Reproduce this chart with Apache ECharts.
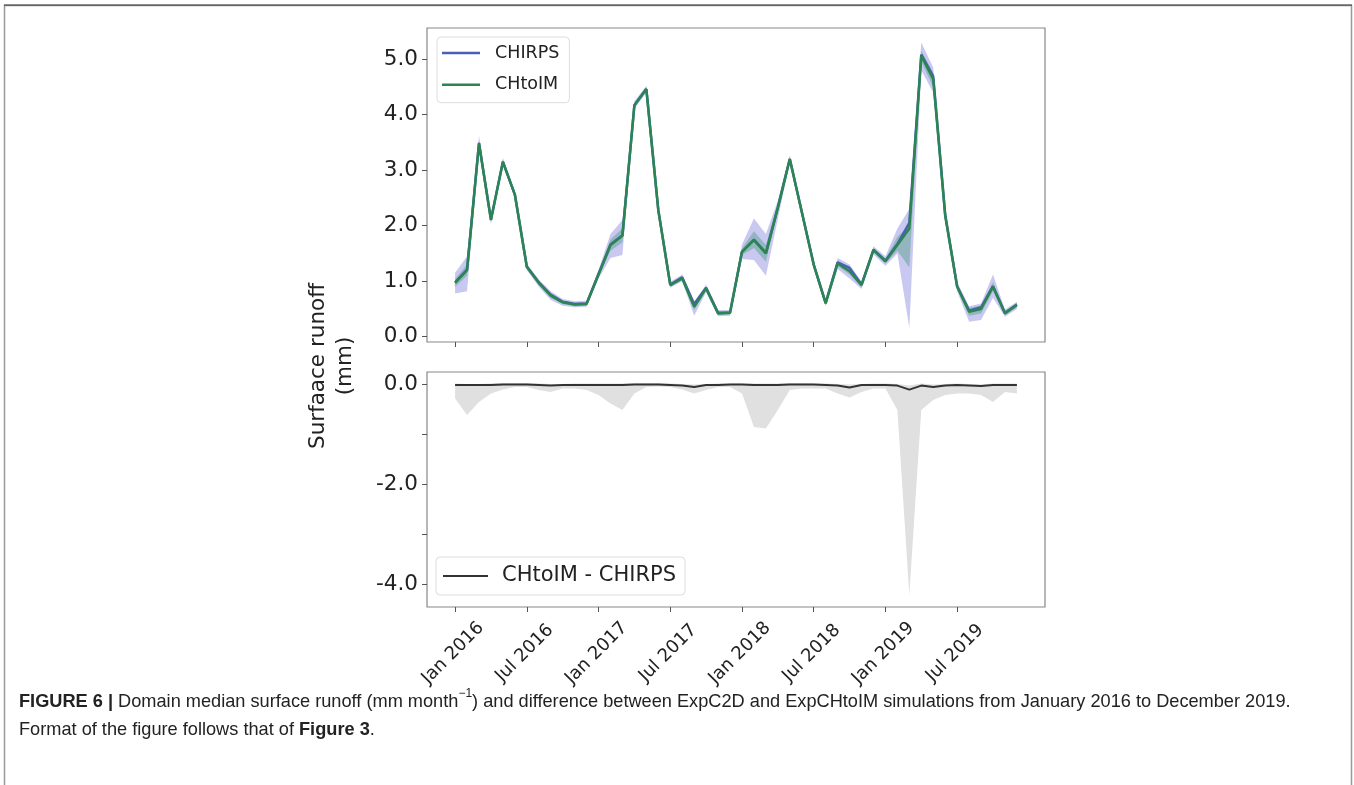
<!DOCTYPE html>
<html><head><meta charset="utf-8">
<script src="https://cdn.jsdelivr.net/npm/echarts@6/dist/echarts.min.js"></script>
<style>html,body{margin:0;padding:0;background:#fff}#c{width:1354px;height:785px}</style>
</head><body><div id="c"></div>
<script>
const months = ['Jan 2016','Feb 2016','Mar 2016','Apr 2016','May 2016','Jun 2016','Jul 2016','Aug 2016','Sep 2016','Oct 2016','Nov 2016','Dec 2016',
  'Jan 2017','Feb 2017','Mar 2017','Apr 2017','May 2017','Jun 2017','Jul 2017','Aug 2017','Sep 2017','Oct 2017','Nov 2017','Dec 2017',
  'Jan 2018','Feb 2018','Mar 2018','Apr 2018','May 2018','Jun 2018','Jul 2018','Aug 2018','Sep 2018','Oct 2018','Nov 2018','Dec 2018',
  'Jan 2019','Feb 2019','Mar 2019','Apr 2019','May 2019','Jun 2019','Jul 2019','Aug 2019','Sep 2019','Oct 2019','Nov 2019','Dec 2019'];
const tickLabels = ['Jan 2016','Jul 2016','Jan 2017','Jul 2017','Jan 2018','Jul 2018','Jan 2019','Jul 2019'];
const topTicks = [0, 1, 2, 3, 4, 5];
const bottomTicks = [0, -1, -2, -3, -4];
const bottomLabels = [0, -2, -4];

const chirps = [0.98,1.21,3.49,2.11,3.15,2.56,1.26,0.98,0.76,0.63,0.59,0.60,1.13,1.66,1.83,4.17,4.46,2.28,0.94,1.07,0.59,0.88,0.43,0.43,1.53,1.75,1.51,2.33,3.20,2.25,1.30,0.61,1.34,1.24,0.94,1.57,1.37,1.67,2.05,5.08,4.69,2.20,0.91,0.47,0.53,0.91,0.43,0.58];
const chirpsLo = [0.78,0.82,3.35,2.03,3.08,2.50,1.20,0.90,0.66,0.56,0.53,0.54,1.05,1.42,1.47,4.10,4.40,2.22,0.88,1.00,0.38,0.80,0.37,0.38,1.40,1.38,1.10,2.12,3.13,2.18,1.24,0.55,1.22,1.05,0.86,1.48,1.28,1.50,0.16,4.80,4.40,2.10,0.82,0.27,0.30,0.70,0.36,0.50];
const chirpsHi = [1.15,1.45,3.62,2.17,3.22,2.62,1.32,1.03,0.82,0.68,0.64,0.65,1.20,1.85,2.10,4.24,4.52,2.34,0.99,1.12,0.62,0.94,0.48,0.48,1.66,2.13,1.85,2.45,3.27,2.32,1.36,0.66,1.42,1.30,0.99,1.63,1.45,1.95,2.30,5.30,4.85,2.27,0.98,0.55,0.60,1.12,0.49,0.63];
const chtoim = [0.97,1.20,3.48,2.10,3.15,2.56,1.26,0.97,0.74,0.62,0.58,0.59,1.12,1.65,1.82,4.17,4.46,2.28,0.93,1.05,0.54,0.87,0.42,0.43,1.53,1.74,1.50,2.32,3.20,2.25,1.30,0.60,1.32,1.18,0.93,1.56,1.36,1.65,1.95,5.06,4.64,2.18,0.90,0.45,0.50,0.90,0.42,0.57];
const chtoimLo = [0.90,1.10,3.42,2.06,3.11,2.52,1.22,0.93,0.70,0.59,0.55,0.56,1.08,1.55,1.70,4.13,4.42,2.24,0.90,1.02,0.48,0.83,0.39,0.40,1.47,1.60,1.35,2.25,3.16,2.21,1.27,0.57,1.27,1.12,0.89,1.52,1.32,1.55,1.25,4.95,4.50,2.14,0.86,0.38,0.42,0.82,0.39,0.53];
const chtoimHi = [1.04,1.30,3.54,2.14,3.19,2.60,1.30,1.01,0.78,0.65,0.61,0.62,1.16,1.75,1.95,4.21,4.50,2.32,0.96,1.08,0.58,0.91,0.45,0.46,1.59,1.90,1.65,2.39,3.24,2.29,1.33,0.63,1.37,1.24,0.97,1.60,1.40,1.80,2.00,5.15,4.75,2.22,0.94,0.52,0.56,0.98,0.45,0.61];
const diff = [-0.01,-0.01,-0.01,-0.01,0.00,0.00,0.00,-0.01,-0.02,-0.01,-0.01,-0.01,-0.01,-0.01,-0.01,0.00,0.00,0.00,-0.01,-0.02,-0.05,-0.01,-0.01,0.00,0.00,-0.01,-0.01,-0.01,0.00,0.00,0.00,-0.01,-0.02,-0.06,-0.01,-0.01,-0.01,-0.02,-0.10,-0.02,-0.05,-0.02,-0.01,-0.02,-0.03,-0.01,-0.01,-0.01];
const diffLo = [-0.28,-0.61,-0.35,-0.18,-0.10,-0.05,-0.05,-0.11,-0.15,-0.08,-0.08,-0.11,-0.21,-0.38,-0.51,-0.18,-0.05,-0.04,-0.05,-0.10,-0.18,-0.11,-0.05,-0.05,-0.18,-0.85,-0.88,-0.51,-0.11,-0.08,-0.08,-0.08,-0.18,-0.26,-0.15,-0.08,-0.08,-0.51,-4.21,-0.51,-0.31,-0.21,-0.18,-0.18,-0.21,-0.35,-0.15,-0.18];
const diffHi = [0.02,0.01,0.01,0.02,0.03,0.03,0.03,0.02,0.01,0.01,0.02,0.02,0.02,0.02,0.02,0.03,0.03,0.03,0.02,0.01,0.00,0.01,0.02,0.02,0.02,0.02,0.02,0.02,0.03,0.03,0.02,0.02,0.01,0.00,0.01,0.02,0.02,0.01,-0.02,0.02,0.00,0.01,0.02,0.01,0.00,0.02,0.02,0.02];

const tickPos = tickLabels.map(l => months.indexOf(l));
const FONT = 'DejaVu Sans';
const pts = arr => arr.map((v, i) => [i, v]);

function band(gi, lo, hi, color) {
  return {
    type: 'custom', xAxisIndex: gi, yAxisIndex: gi, silent: true, z: 1,
    data: lo.map((v, i) => [i, v, hi[i]]),
    encode: {x: 0, y: [1, 2]},
    renderItem: (params, api) => {
      if (params.dataIndexInside !== 0) return null;
      const n = params.dataInsideLength;
      const up = [], dn = [];
      for (let j = 0; j < n; j++) {
        up.push(api.coord([api.value(0, j), api.value(2, j)]));
        dn.push(api.coord([api.value(0, j), api.value(1, j)]));
      }
      return {type: 'polygon', shape: {points: up.concat(dn.reverse())}, style: {fill: color}};
    }
  };
}

function xAx(gi, showLabel) {
  return {
    type: 'value', gridIndex: gi, min: -2.35, max: 49.35,
    axisLine: {show: false, onZero: false}, splitLine: {show: false},
    axisTick: {show: true, length: 5, customValues: tickPos, lineStyle: {color: '#555', width: 1}},
    axisLabel: showLabel ? {
      show: true, customValues: tickPos, formatter: v => months[Math.round(v)],
      rotate: 45, align: 'center', verticalAlign: 'middle', padding: [0, 6, 0, 0], margin: 44,
      fontSize: 18, color: '#222', fontFamily: FONT
    } : {show: false}
  };
}
function yAx(gi, min, max, ticks, labels) {
  return {
    type: 'value', gridIndex: gi, min: min, max: max,
    axisLine: {show: false, onZero: false}, splitLine: {show: false},
    axisTick: {show: true, length: 5, customValues: ticks, lineStyle: {color: '#555', width: 1}},
    axisLabel: {show: true, customValues: labels, formatter: v => v.toFixed(1), margin: 9,
      fontSize: 21.5, color: '#222', fontFamily: FONT}
  };
}

const chart = echarts.init(document.getElementById('c'), null, {renderer: 'canvas'});
chart.setOption({
  animation: false,
  backgroundColor: '#fff',
  grid: [
    {left: 427, top: 28, width: 618, height: 314, show: true, borderColor: '#888', borderWidth: 1.2},
    {left: 427, top: 372, width: 618, height: 235, show: true, borderColor: '#888', borderWidth: 1.2}
  ],
  xAxis: [xAx(0, false), xAx(1, true)],
  yAxis: [yAx(0, -0.095, 5.56, topTicks, topTicks), yAx(1, -4.448, 0.252, bottomTicks, bottomLabels)],
  legend: [
    {data: ['CHIRPS', 'CHtoIM'], orient: 'vertical', left: 437, top: 37, icon: 'rect',
     padding: [5, 10, 7, 5], itemGap: 9.7, itemWidth: 38, itemHeight: 2.5,
     borderColor: '#ddd', borderWidth: 1, borderRadius: 4, backgroundColor: '#fff',
     textStyle: {fontSize: 17.5, fontFamily: FONT, color: '#222', lineHeight: 22, padding: [0, 0, 0, 10]}},
    {data: ['CHtoIM - CHIRPS'], orient: 'vertical', left: 436, top: 557, icon: 'rect',
     padding: [6, 9, 6, 7], itemWidth: 45, itemHeight: 2,
     borderColor: '#ddd', borderWidth: 1, borderRadius: 4, backgroundColor: '#fff',
     textStyle: {fontSize: 21, fontFamily: FONT, color: '#222', lineHeight: 26, padding: [0, 0, 0, 9]}}
  ],
  series: [
    band(0, chirpsLo, chirpsHi, 'rgba(110,110,215,0.38)'),
    band(0, chtoimLo, chtoimHi, 'rgba(60,150,110,0.38)'),
    {name: 'CHIRPS', type: 'line', xAxisIndex: 0, yAxisIndex: 0, data: pts(chirps), symbol: 'none',
     color: '#4a5fb5', lineStyle: {color: '#4a5fb5', width: 2.5}, z: 3},
    {name: 'CHtoIM', type: 'line', xAxisIndex: 0, yAxisIndex: 0, data: pts(chtoim), symbol: 'none',
     color: '#2a8552', lineStyle: {color: '#2a8552', width: 2.5}, z: 4},
    band(1, diffLo, diffHi, '#e0e0e0'),
    {name: 'CHtoIM - CHIRPS', type: 'line', xAxisIndex: 1, yAxisIndex: 1, data: pts(diff), symbol: 'none',
     color: '#333', lineStyle: {color: '#333', width: 2}, z: 4}
  ],
  graphic: [
    {type: 'rect', shape: {x: 4.5, y: 5.5, width: 1347, height: 790}, style: {fill: 'none', stroke: '#999', lineWidth: 1.5}, silent: true},
    {type: 'line', shape: {x1: 4, y1: 5, x2: 1352, y2: 5}, style: {stroke: '#333', lineWidth: 1}, silent: true},
    {type: 'text', x: 332, y: 366, rotation: Math.PI / 2,
     style: {text: 'Surfaace runoff\n(mm)', fontSize: 21.5, fontFamily: FONT, fill: '#222',
       align: 'center', verticalAlign: 'middle', lineHeight: 27}},
    {type: 'text', x: 19, y: 688,
     style: {
       text: '{b|FIGURE 6 |}{n| Domain median surface runoff (mm month}{sup|−1}{n|) and difference between ExpC2D and ExpCHtoIM simulations from January 2016 to December 2019.}\n{n|Format of the figure follows that of }{b|Figure 3}{n|.}',
       fill: '#222', fontFamily: 'Liberation Sans', fontSize: 18.2, lineHeight: 28, align: 'left', verticalAlign: 'top',
       rich: {
         n: {fontFamily: 'Liberation Sans', fontSize: 18.2, lineHeight: 28, fill: '#222'},
         b: {fontFamily: 'Liberation Sans', fontSize: 18.2, lineHeight: 28, fontWeight: 'bold', fill: '#222'},
         sup: {fontFamily: 'Liberation Sans', fontSize: 12, lineHeight: 14, verticalAlign: 'top', fill: '#222'}
       }
     }}
  ]
});
</script></body></html>
